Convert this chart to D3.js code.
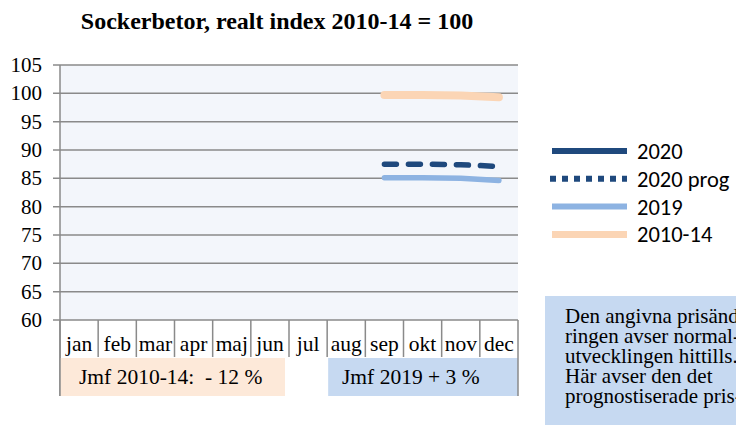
<!DOCTYPE html>
<html><head><meta charset="utf-8">
<script src="https://cdn.jsdelivr.net/npm/d3@7"></script>
<style>
html,body{margin:0;padding:0;background:#fff;}
svg{display:block;}
text{white-space:pre;}
</style></head>
<body>
<svg id="c" width="736" height="425"></svg>
<script>
const months = ["jan","feb","mar","apr","maj","jun","jul","aug","sep","okt","nov","dec"];
const yTicks = [60,65,70,75,80,85,90,95,100,105];
const seriesNames = ["2020","2020 prog","2019","2010-14"];
const vals2020 = [];
const vals2020prog = [{m:"sep",v:87.5},{m:"okt",v:87.5},{m:"nov",v:87.4},{m:"dec",v:87.1}];
const vals2019 = [{m:"sep",v:85.1},{m:"okt",v:85.1},{m:"nov",v:85.0},{m:"dec",v:84.6}];
const vals1014 = [{m:"sep",v:99.7},{m:"okt",v:99.7},{m:"nov",v:99.6},{m:"dec",v:99.3}];
const title = "Sockerbetor, realt index 2010-14 = 100";
const cmp1 = "Jmf 2010-14:  - 12 %";
const cmp2 = "Jmf 2019 + 3 %";
const noteLines = ["Den angivna prisänd-","ringen avser normal-","utvecklingen hittills.","Här avser den det","prognostiserade pris-"];

const svg = d3.select("#c");
const L=60, R=518, T=65, B=320;
const x = d3.scaleBand().domain(months).range([L,R]);
const y = d3.scaleLinear().domain([60,105]).range([B,T]);
const serif = "'Liberation Serif','Times New Roman',serif";
const sans = "Carlito,Lato,'Open Sans',sans-serif";

// title
svg.append("text").attr("x",277).attr("y",29).attr("text-anchor","middle")
  .attr("font-family",serif).attr("font-weight","bold").attr("font-size",24).text(title);

// plot bg
svg.append("rect").attr("x",L).attr("y",T).attr("width",R-L).attr("height",B-T).attr("fill","#F3F6FB");

// gridlines
svg.append("g").selectAll("line").data(yTicks).join("line")
  .attr("x1",L-7).attr("x2",R).attr("y1",d=>y(d)).attr("y2",d=>y(d))
  .attr("stroke","#8a8a8a").attr("stroke-width",1.5);
// y labels
svg.append("g").selectAll("text").data(yTicks).join("text")
  .attr("x",42).attr("y",d=>y(d)+7).attr("text-anchor","end")
  .attr("font-family",serif).attr("font-size",21).text(d=>d);

// left axis
svg.append("line").attr("x1",L).attr("x2",L).attr("y1",T).attr("y2",396).attr("stroke","#8a8a8a").attr("stroke-width",1.5);

// comparison boxes
svg.append("rect").attr("x",L).attr("y",358).attr("width",x("jul")-4-L).attr("height",38).attr("fill","#FDE9D9");
svg.append("rect").attr("x",x("aug")+1).attr("y",358).attr("width",R-x("aug")-1).attr("height",38).attr("fill","#C6D9F1");
svg.append("text").attr("x",79).attr("y",384).attr("font-family",serif).attr("font-size",21.5).text(cmp1);
svg.append("text").attr("x",342).attr("y",384).attr("font-family",serif).attr("font-size",21.5).text(cmp2);

// category separators
const bounds = months.map(m=>x(m)).concat([R]);
svg.append("g").selectAll("line").data(bounds).join("line")
  .attr("x1",d=>d).attr("x2",d=>d).attr("y1",B).attr("y2",(d,i)=> (i===0||i===bounds.length-1)?396:357)
  .attr("stroke","#8a8a8a").attr("stroke-width",1.5);
// month labels
svg.append("g").selectAll("text").data(months).join("text")
  .attr("x",d=>x(d)+x.bandwidth()/2).attr("y",351).attr("text-anchor","middle")
  .attr("font-family",serif).attr("font-size",21.5).text(d=>d);

// lines
const line = d3.line().x(d=>x(d.m)+x.bandwidth()/2).y(d=>y(d.v));
svg.append("path").datum(vals1014).attr("d",line).attr("fill","none").attr("stroke","#FBD5B5").attr("stroke-width",8).attr("stroke-linecap","round");
svg.append("path").datum(vals2019).attr("d",line).attr("fill","none").attr("stroke","#8DB3E2").attr("stroke-width",5.5).attr("stroke-linecap","round");
svg.append("path").datum(vals2020prog).attr("d",line).attr("fill","none").attr("stroke","#1F497D").attr("stroke-width",5.5).attr("stroke-linecap","round").attr("stroke-dasharray","12,12");
if (vals2020.length) svg.append("path").datum(vals2020).attr("d",line).attr("fill","none").attr("stroke","#1F497D").attr("stroke-width",5.5);

// legend
const legStyles = [
  {c:"#1F497D",w:6,dash:null},
  {c:"#1F497D",w:6,dash:"6,6"},
  {c:"#8DB3E2",w:6,dash:null},
  {c:"#FBD5B5",w:7,dash:null}
];
const lg = svg.append("g").selectAll("g").data(seriesNames).join("g")
  .attr("transform",(d,i)=>`translate(0,${151+i*27.8})`);
lg.append("line").attr("x1",(d,i)=>i===1?550:552).attr("x2",627).attr("y1",0).attr("y2",0)
  .attr("stroke",(d,i)=>legStyles[i].c).attr("stroke-width",(d,i)=>legStyles[i].w)
  .attr("stroke-dasharray",(d,i)=>legStyles[i].dash);
lg.append("text").attr("x",637).attr("y",8).attr("font-family",sans).attr("font-size",22.5).text(d=>d);

// note box
svg.append("rect").attr("x",545).attr("y",296).attr("width",200).attr("height",140).attr("fill","#C6D9F1");
svg.append("g").selectAll("text").data(noteLines).join("text")
  .attr("x",565).attr("y",(d,i)=>323+i*20).attr("font-family",serif).attr("font-size",21).text(d=>d);
</script>
</body></html>
